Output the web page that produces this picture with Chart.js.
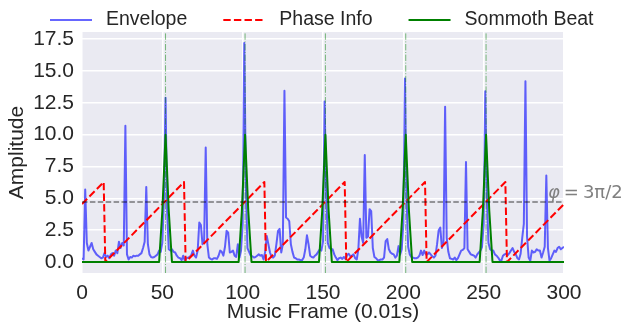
<!DOCTYPE html>
<html>
<head>
<meta charset="utf-8">
<script src="https://cdn.jsdelivr.net/npm/chart.js@4"></script>
<style>
  html, body { margin: 0; padding: 0; background: #fff; }
</style>
</head>
<body>
<canvas id="beatChart" width="626" height="324"></canvas>
<script>
const xTicks = [0, 50, 100, 150, 200, 250, 300];
const yTicks = [0, 2.5, 5, 7.5, 10, 12.5, 15, 17.5];

// onset envelope, one value per music frame (frame = index)
const envelope = [
  0.3, 0.2, 5.7, 1.5, 0.9, 1.2, 1.5, 1.0, 0.8, 0.6,
  0.5, 0.4, 0.3, 0.35, 0.7, 0.4, 0.5, 0.3, 0.6, 0.7,
  0.5, 0.9, 0.7, 1.6, 1.1, 1.5, 1.3, 10.7, 0.6, 0.2,
  0.4, 0.35, 0.5, 0.45, 0.5, 0.5, 0.6, 0.7, 1.1, 1.6,
  5.9, 1.4, 0.6, 0.4, 0.35, 0.4, 0.5, 0.6, 0.9, 0.8,
  1.5, 5.0, 12.9, 4.0, 1.0, 0.9, 1.0, 0.8, 0.75, 0.5,
  0.35, 0.3, 0.15, 0.5, 0.1, 0.3, 0.35, 0.4, 0.55, 0.9,
  0.5, 0.35, 0.9, 3.1, 2.9, 1.4, 1.6, 9.0, 1.4, 0.35,
  0.25, 0.2, 0.3, 0.3, 0.25, 0.5, 0.9, 0.8, 0.5, 1.2,
  2.45, 2.3, 0.75, 0.8, 0.9, 0.5, 0.4, 1.4, 0.35, 0.9,
  3.0, 17.2, 6.0, 1.1, 0.8, 0.5, 0.45, 0.35, 0.4, 0.5,
  0.6, 0.5, 0.55, 0.2, 0.8, 2.05, 1.4, 0.75, 0.4, 0.35,
  0.5, 1.4, 2.45, 2.6, 0.75, 1.4, 13.45, 3.5, 3.4, 3.2,
  1.4, 0.8, 0.35, 0.3, 0.2, 0.2, 0.15, 0.15, 0.35, 1.0,
  2.1, 1.4, 0.5, 0.4, 0.35, 0.5, 0.6, 0.8, 1.0, 0.9,
  1.6, 12.6, 5.5, 1.5, 1.1, 1.0, 1.0, 0.6, 0.35, 0.15,
  0.3, 0.35, 0.25, 0.4, 0.25, 0.55, 0.65, 0.45, 0.5, 0.6,
  0.3, 0.2, 1.0, 3.4, 2.0, 1.5, 8.4, 1.9, 2.0, 4.15,
  4.0, 1.1, 0.4, 0.3, 0.15, 0.15, 0.2, 0.2, 0.35, 1.65,
  1.8, 1.0, 0.75, 0.65, 0.6, 0.35, 0.5, 1.25, 0.6, 1.0,
  3.0, 14.4, 5.0, 1.2, 0.6, 0.4, 0.35, 0.3, 0.3, 0.35,
  0.5, 0.9, 0.55, 0.9, 0.6, 0.6, 0.75, 0.6, 0.45, 0.35,
  0.5, 1.4, 2.5, 2.7, 1.1, 1.6, 12.2, 1.9, 0.8, 0.3,
  0.25, 0.2, 0.35, 0.15, 0.3, 0.6, 0.9, 0.95, 1.1, 7.85,
  1.0, 0.8, 0.6, 0.55, 0.5, 0.35, 0.6, 0.75, 0.9, 1.2,
  3.0, 13.4, 5.0, 1.5, 1.0, 0.9, 0.9, 0.6, 0.5, 0.35,
  0.15, 0.1, 0.5, 0.6, 0.65, 0.55, 0.7, 0.9, 1.1, 0.8,
  0.6, 0.3, 0.2, 0.65, 1.9, 3.0, 14.2, 2.0, 0.35, 0.1,
  0.9, 0.75, 0.8, 1.0, 0.9, 0.9, 0.35, 0.75, 1.2, 6.8,
  1.1, 0.1, 0.3, 0.6, 0.9, 0.8, 1.1, 1.2, 1.0, 1.1,
  1.2
];

// sawtooth phase, corners only
const phaseFrames = [0, 13.5, 14.5, 63.5, 64.5, 113.5, 114.5, 163.5, 164.5, 213.5, 214.5, 263.5, 264.5, 300];
const phaseValues = [4.55, 6.28, 0, 6.28, 0, 6.28, 0, 6.28, 0, 6.28, 0, 6.28, 0, 4.55];

// smoothed beat pulses, corners only
const smoothFrames = [0,
  48, 50, 52, 54, 56,
  97.5, 99.5, 101.5, 103.5, 105.5,
  147.5, 149.5, 151.5, 153.5, 155.5,
  197.5, 199.5, 201.5, 203.5, 205.5,
  247.5, 249.5, 251.5, 253.5, 255.5,
  300];
const smoothValues = [0,
  0, 4, 10, 4, 0,
  0, 4, 10, 4, 0,
  0, 4, 10, 4, 0,
  0, 4, 10, 4, 0,
  0, 4, 10, 4, 0,
  0];

const beatFrames = [52, 101.5, 151.5, 201.5, 251.5];
const phaseMark = 3 * Math.PI / 2;
const markLabelFrame = 290;
const markLabelLevel = 5.0;

const textColor = "#262626";
Chart.defaults.font.family = '"Liberation Sans", Arial, sans-serif';
Chart.defaults.font.size = 21;
Chart.defaults.color = textColor;

const plotBackground = {
  id: "plotBackground",
  beforeDraw(chart) {
    const { ctx, chartArea: a } = chart;
    ctx.save();
    ctx.fillStyle = "#fff";
    ctx.fillRect(0, 0, chart.width, chart.height);
    ctx.fillStyle = "#eaeaf2";
    ctx.fillRect(a.left, a.top, a.right - a.left, a.bottom - a.top);
    ctx.restore();
  }
};

const referenceLines = {
  id: "referenceLines",
  afterDatasetsDraw(chart) {
    const { ctx, chartArea: a, scales: { x, y } } = chart;
    ctx.save();
    ctx.strokeStyle = "rgba(0, 128, 0, 0.5)";
    ctx.lineWidth = 1;
    ctx.setLineDash([6.4, 1.6, 1, 1.6]);
    beatFrames.forEach(f => {
      const px = x.getPixelForValue(f);
      ctx.beginPath();
      ctx.moveTo(px, a.bottom);
      ctx.lineTo(px, a.top);
      ctx.stroke();
    });
    const py = y.getPixelForValue(phaseMark);
    ctx.strokeStyle = "rgba(0, 0, 0, 0.5)";
    ctx.lineWidth = 1.5;
    ctx.setLineDash([5.5, 2.4]);
    ctx.beginPath();
    ctx.moveTo(a.left, py);
    ctx.lineTo(a.right, py);
    ctx.stroke();
    ctx.restore();
  }
};

// "φ = 3π/2" note next to the dashed phase line
const phaseLabel = {
  id: "phaseLabel",
  afterDraw(chart) {
    const { ctx, scales: { x, y } } = chart;
    let px = x.getPixelForValue(markLabelFrame);
    const py = y.getPixelForValue(markLabelLevel);
    ctx.save();
    ctx.fillStyle = "#808080";
    ctx.textBaseline = "alphabetic";
    ctx.font = 'italic 18px "DejaVu Sans"';
    ctx.fillText("φ", px, py);
    px += ctx.measureText("φ").width + 4;
    ctx.font = '18px "DejaVu Sans"';
    ctx.fillText("=", px, py);
    px += ctx.measureText("=").width + 4;
    ctx.fillText("3π/2", px, py);
    ctx.restore();
  }
};

// legend row above the axes, styles taken from the datasets
const lineLegend = {
  id: "lineLegend",
  afterDraw(chart) {
    const ctx = chart.ctx;
    const y = 20, sample = 42, gap = 14, spacing = 36;
    let x = 50;
    ctx.save();
    ctx.font = '19.5px "Liberation Sans", Arial, sans-serif';
    ctx.textBaseline = "middle";
    chart.data.datasets.forEach(ds => {
      ctx.strokeStyle = ds.borderColor;
      ctx.lineWidth = ds.borderWidth;
      ctx.setLineDash(ds.borderDash || []);
      ctx.beginPath();
      ctx.moveTo(x, y);
      ctx.lineTo(x + sample, y);
      ctx.stroke();
      ctx.fillStyle = textColor;
      ctx.fillText(ds.label, x + sample + gap, y);
      x += sample + gap + ctx.measureText(ds.label).width + spacing;
    });
    ctx.restore();
  }
};

new Chart(document.getElementById("beatChart"), {
  type: "line",
  data: {
    datasets: [
      {
        label: "Envelope",
        data: envelope.map((v, i) => ({ x: i, y: v })),
        borderColor: "rgba(0, 0, 255, 0.6)",
        borderWidth: 2,
        order: 3
      },
      {
        label: "Phase Info",
        data: phaseFrames.map((f, i) => ({ x: f, y: phaseValues[i] })),
        borderColor: "#ff0000",
        borderWidth: 2,
        borderDash: [7.4, 3.2],
        order: 2
      },
      {
        label: "Sommoth Beat",
        data: smoothFrames.map((f, i) => ({ x: f, y: smoothValues[i] })),
        borderColor: "#008000",
        borderWidth: 2,
        order: 1
      }
    ]
  },
  options: {
    responsive: false,
    animation: false,
    layout: { padding: { top: 32, right: 62, bottom: 0, left: 0 } },
    elements: {
      point: { radius: 0 },
      line: { tension: 0, fill: false, borderJoinStyle: "round" }
    },
    plugins: {
      legend: { display: false },
      tooltip: { enabled: false }
    },
    scales: {
      x: {
        type: "linear",
        min: 0,
        max: 300,
        afterBuildTicks: s => { s.ticks = xTicks.map(v => ({ value: v })); },
        afterFit: s => { s.height = 51; },
        grid: { color: "#ffffff", lineWidth: 1.5, drawTicks: false },
        border: { display: false },
        ticks: { padding: 8, callback: v => String(v) },
        title: {
          display: true,
          text: "Music Frame (0.01s)",
          font: { lineHeight: 1 },
          padding: { top: 0, bottom: 1 }
        }
      },
      y: {
        type: "linear",
        min: -0.86,
        max: 18.06,
        afterBuildTicks: s => { s.ticks = yTicks.map(v => ({ value: v })); },
        afterFit: s => { s.width = 82; },
        grid: { color: "#ffffff", lineWidth: 1.5, drawTicks: false },
        border: { display: false },
        ticks: { padding: 8, callback: v => v.toFixed(1) },
        title: {
          display: true,
          text: "Amplitude",
          font: { lineHeight: 1 },
          padding: { top: 7, bottom: 0 }
        }
      }
    }
  },
  plugins: [plotBackground, referenceLines, phaseLabel, lineLegend]
});
</script>
</body>
</html>
